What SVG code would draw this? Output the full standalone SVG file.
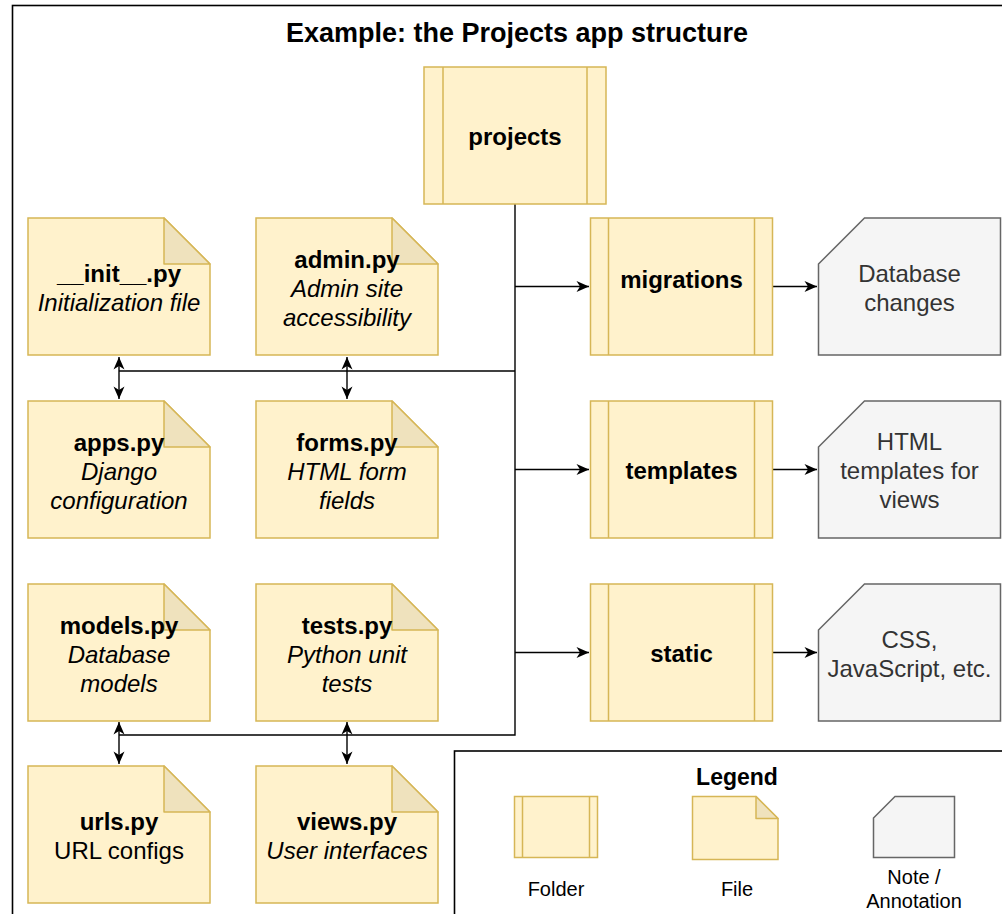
<svg xmlns="http://www.w3.org/2000/svg" width="1002" height="914" viewBox="0 0 1002 914">
<defs>
<marker id="arr" viewBox="-14 -7 15 14" refX="0" refY="0" markerWidth="15" markerHeight="14" markerUnits="userSpaceOnUse" orient="auto-start-reverse">
<path d="M0,0 L-12.5,-5.5 L-9,0 L-12.5,5.5 Z" fill="#000"/>
</marker>
</defs>
<style>
text{font-family:"Liberation Sans",Arial,Helvetica,sans-serif;text-anchor:middle;}
.t{font-size:24px;fill:#000;}
.b{font-weight:bold;}
.i{font-style:italic;}
.n{font-size:24px;fill:#333;}
.shape{fill:#fff2cc;stroke:#d6b656;stroke-width:1.5;}
.fold{fill:#efe2bd;stroke:#d6b656;stroke-width:1.5;stroke-linejoin:round;}
.inner{fill:none;stroke:#d6b656;stroke-width:1.5;}
.note{fill:#f5f5f5;stroke:#666;stroke-width:1.5;}
.con{fill:none;stroke:#000;stroke-width:1.4;}
.lg{font-size:20px;fill:#000;}
</style>
<rect width="1002" height="914" fill="#fff"/>
<rect x="12.5" y="5.5" width="1010" height="930" fill="none" stroke="#000" stroke-width="1.6"/>
<text x="517" y="42" class="b" style="font-size:27px">Example: the Projects app structure</text>

<g id="connectors">
<path class="con" d="M515,204 V735 H119"/>
<path class="con" d="M515,371 H119"/>
<path class="con" d="M119,357 V399" marker-start="url(#arr)" marker-end="url(#arr)"/>
<path class="con" d="M347,357 V399" marker-start="url(#arr)" marker-end="url(#arr)"/>
<path class="con" d="M119,722 V764" marker-start="url(#arr)" marker-end="url(#arr)"/>
<path class="con" d="M347,722 V764" marker-start="url(#arr)" marker-end="url(#arr)"/>
<path class="con" d="M515,286.5 H589" marker-end="url(#arr)"/>
<path class="con" d="M515,469.5 H589" marker-end="url(#arr)"/>
<path class="con" d="M515,652.5 H589" marker-end="url(#arr)"/>
<path class="con" d="M772.5,286.5 H817" marker-end="url(#arr)"/>
<path class="con" d="M772.5,469.5 H817" marker-end="url(#arr)"/>
<path class="con" d="M772.5,652.5 H817" marker-end="url(#arr)"/>
</g>

<g id="projects">
<rect class="shape" x="424" y="67" width="182" height="137"/>
<path class="inner" d="M443,67 V204 M587,67 V204"/>
<text x="515" y="145" class="t b">projects</text>
</g>

<g id="migrations">
<rect class="shape" x="590.5" y="218" width="182" height="137"/>
<path class="inner" d="M608.5,218 V355 M754.5,218 V355"/>
<text x="681.5" y="288" class="t b">migrations</text>
</g>
<g id="templates">
<rect class="shape" x="590.5" y="401" width="182" height="137"/>
<path class="inner" d="M608.5,401 V538 M754.5,401 V538"/>
<text x="681.5" y="479" class="t b">templates</text>
</g>
<g id="static">
<rect class="shape" x="590.5" y="584" width="182" height="137"/>
<path class="inner" d="M608.5,584 V721 M754.5,584 V721"/>
<text x="681.5" y="662" class="t b">static</text>
</g>

<g id="note-migrations">
<path class="note" d="M818.5,264 L864.5,218 H1000.5 V355 H818.5 Z"/>
<text x="909.5" y="281.5" class="n">Database</text>
<text x="909.5" y="310.5" class="n">changes</text>
</g>
<g id="note-templates">
<path class="note" d="M818.5,447 L864.5,401 H1000.5 V538 H818.5 Z"/>
<text x="909.5" y="450" class="n">HTML</text>
<text x="909.5" y="479" class="n">templates for</text>
<text x="909.5" y="508" class="n">views</text>
</g>
<g id="note-static">
<path class="note" d="M818.5,630 L864.5,584 H1000.5 V721 H818.5 Z"/>
<text x="909.5" y="647.5" class="n">CSS,</text>
<text x="909.5" y="676.5" class="n">JavaScript, etc.</text>
</g>

<g id="init">
<path class="shape" d="M28,218 H164 L210,264 V355 H28 Z"/>
<path class="fold" d="M164,218 V264 H210 Z"/>
<text x="119" y="281.5" class="t b">__init__.py</text>
<text x="119" y="310.5" class="t i">Initialization file</text>
</g>
<g id="admin">
<path class="shape" d="M256,218 H392 L438,264 V355 H256 Z"/>
<path class="fold" d="M392,218 V264 H438 Z"/>
<text x="347" y="268" class="t b">admin.py</text>
<text x="347" y="297" class="t i">Admin site</text>
<text x="347" y="326" class="t i">accessibility</text>
</g>
<g id="apps">
<path class="shape" d="M28,401 H164 L210,447 V538 H28 Z"/>
<path class="fold" d="M164,401 V447 H210 Z"/>
<text x="119" y="451" class="t b">apps.py</text>
<text x="119" y="480" class="t i">Django</text>
<text x="119" y="509" class="t i">configuration</text>
</g>
<g id="forms">
<path class="shape" d="M256,401 H392 L438,447 V538 H256 Z"/>
<path class="fold" d="M392,401 V447 H438 Z"/>
<text x="347" y="451" class="t b">forms.py</text>
<text x="347" y="480" class="t i">HTML form</text>
<text x="347" y="509" class="t i">fields</text>
</g>
<g id="models">
<path class="shape" d="M28,584 H164 L210,630 V721 H28 Z"/>
<path class="fold" d="M164,584 V630 H210 Z"/>
<text x="119" y="634" class="t b">models.py</text>
<text x="119" y="663" class="t i">Database</text>
<text x="119" y="692" class="t i">models</text>
</g>
<g id="tests">
<path class="shape" d="M256,584 H392 L438,630 V721 H256 Z"/>
<path class="fold" d="M392,584 V630 H438 Z"/>
<text x="347" y="634" class="t b">tests.py</text>
<text x="347" y="663" class="t i">Python unit</text>
<text x="347" y="692" class="t i">tests</text>
</g>
<g id="urls">
<path class="shape" d="M28,766 H164 L210,812 V903 H28 Z"/>
<path class="fold" d="M164,766 V812 H210 Z"/>
<text x="119" y="829.5" class="t b">urls.py</text>
<text x="119" y="858.5" class="t">URL configs</text>
</g>
<g id="views">
<path class="shape" d="M256,766 H392 L438,812 V903 H256 Z"/>
<path class="fold" d="M392,766 V812 H438 Z"/>
<text x="347" y="829.5" class="t b">views.py</text>
<text x="347" y="858.5" class="t i">User interfaces</text>
</g>

<g id="legend">
<rect x="454.5" y="751" width="600" height="200" fill="#fff" stroke="#000" stroke-width="1.6"/>
<text x="737" y="785" class="b" style="font-size:23px">Legend</text>
<rect class="shape" x="514.5" y="796.5" width="83" height="61"/>
<path class="inner" d="M522.5,796.5 V857.5 M589.5,796.5 V857.5"/>
<path class="shape" d="M692.5,796.5 H756 L778,818.5 V859.5 H692.5 Z"/>
<path class="fold" d="M756,796.5 V818.5 H778 Z"/>
<path class="note" d="M873.5,818 L895,796.5 H954.5 V857.5 H873.5 Z"/>
<text x="556" y="896" class="lg">Folder</text>
<text x="737" y="896" class="lg">File</text>
<text x="914" y="884" class="lg">Note /</text>
<text x="914" y="908" class="lg">Annotation</text>
</g>
</svg>
